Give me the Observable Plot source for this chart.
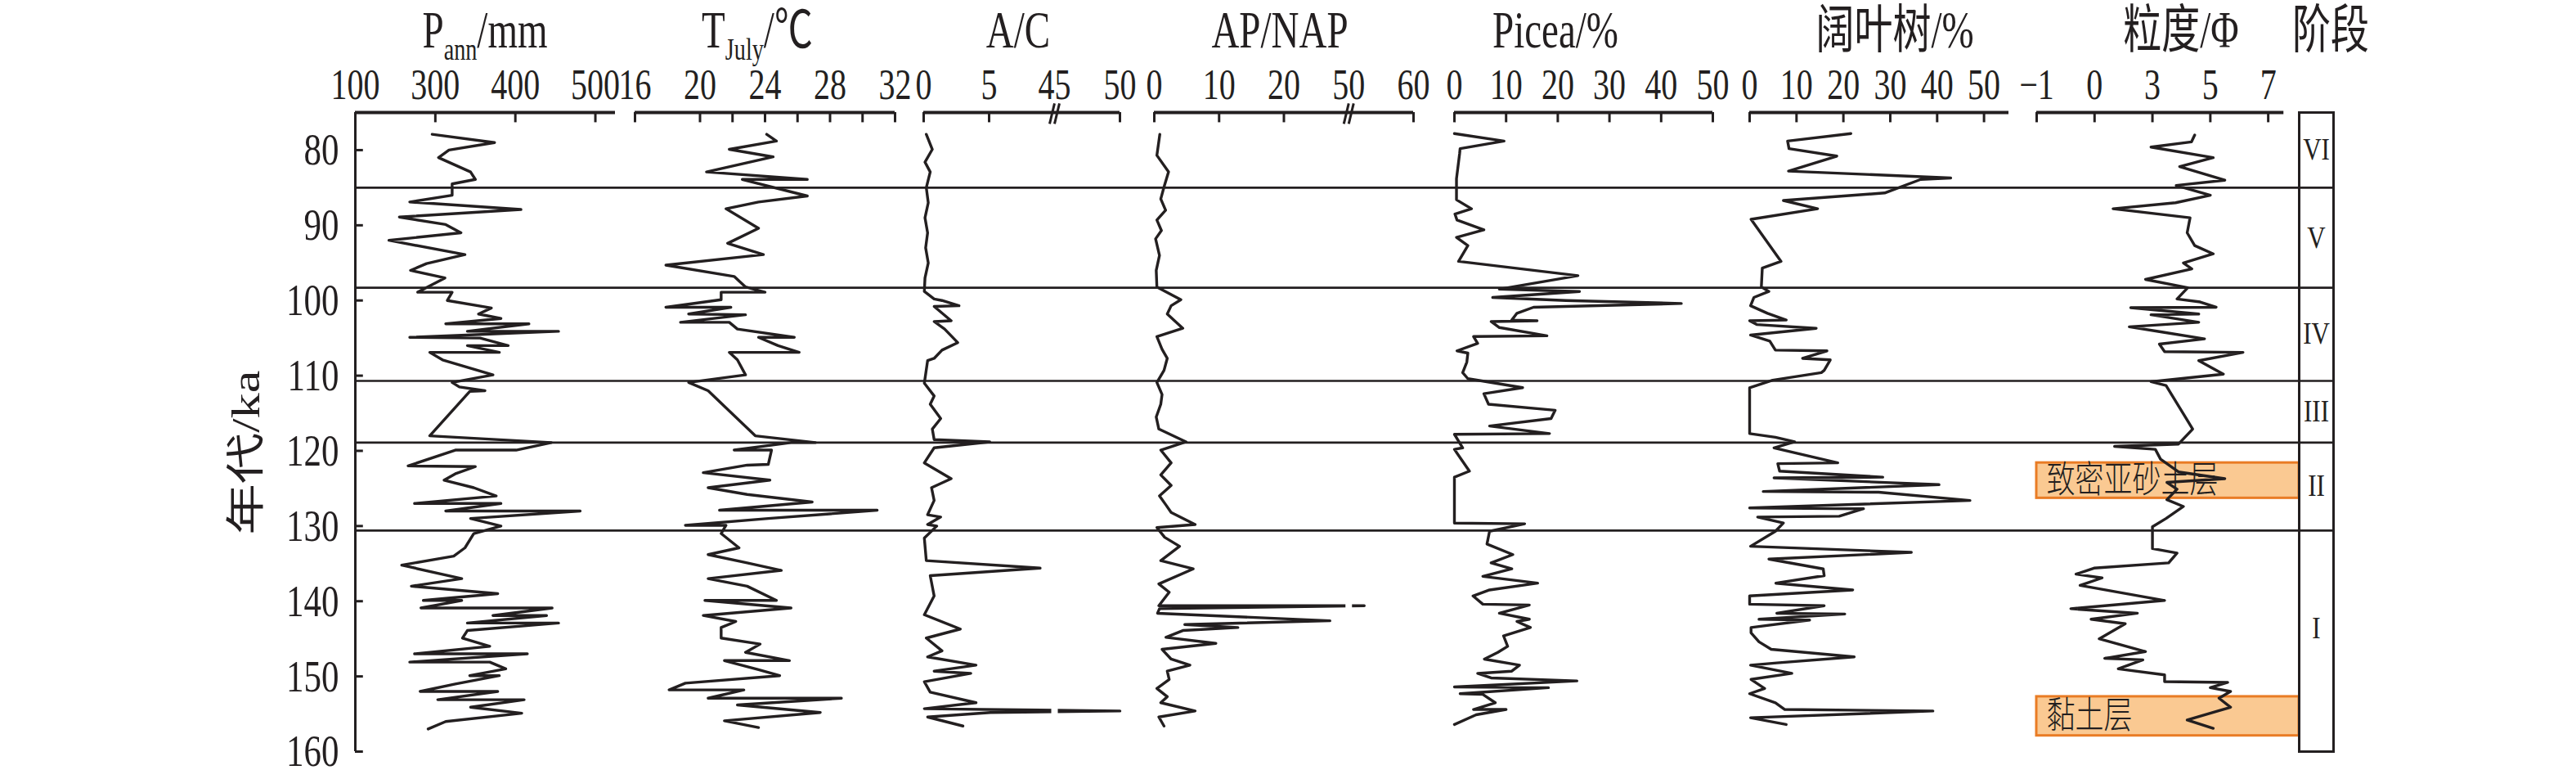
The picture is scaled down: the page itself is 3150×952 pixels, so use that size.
<!DOCTYPE html>
<html lang="zh">
<head>
<meta charset="utf-8">
<title>chart</title>
<script src="https://cdn.jsdelivr.net/npm/d3@7"></script>
<script src="https://cdn.jsdelivr.net/npm/@observablehq/plot@0.6"></script>
<style>
  html,body{margin:0;padding:0;background:#fff;}
  #chart{position:relative;width:3150px;height:952px;overflow:hidden;background:#fff;}
  #chart svg{position:absolute;left:0;top:0;}
  .t{position:absolute;white-space:nowrap;color:#231f20;font-family:"Liberation Serif","Noto Sans CJK SC",serif;line-height:1;}
  .t sub{font-size:0.6em;vertical-align:-0.4em;line-height:1;}
</style>
</head>
<body>
<div id="chart"></div>
<script>
// ---------------- data ----------------
const ageDomain = [75, 160];
const yTicks = [80, 90, 100, 110, 120, 130, 140, 150, 160];
const boundaries = [85, 98.3, 110.7, 118.9, 130.6];
const stageNames = ["VI", "V", "IV", "III", "II", "I"];
const stageLabelAges = [80, 91.7, 104.5, 114.8, 124.7, 143.6];
const layerNames = ["致密亚砂土层", "黏土层"];
const layerTop = [121.6, 152.7];
const layerBottom = [126.3, 157.9];

const titles = ["P<sub>ann</sub>/mm", "T<sub>July</sub>/℃", "A/C", "AP/NAP", "Picea/%", "阔叶树/%", "粒度/Φ", "阶段"];
const yTitle = "年代/ka";

// P_ann / mm
const pannAge = [77.9,79.0,80.0,81.0,82.9,83.9,84.5,86.0,86.9,87.9,88.9,89.9,91.0,92.0,93.9,95.1,96.0,97.0,98.9,98.9,100.0,101.0,101.8,102.4,103.1,103.1,104.1,104.1,104.9,105.0,106.0,106.0,106.9,106.9,107.9,109.9,110.9,111.5,112.0,112.1,118.0,118.9,119.9,119.9,122.0,122.1,123.0,123.9,124.9,126.0,127.0,127.0,128.0,128.0,129.0,130.0,131.0,132.9,134.0,135.2,137.0,138.0,139.0,139.9,139.9,140.9,140.9,141.9,141.9,142.9,142.9,143.9,144.9,146.0,147.0,147.0,148.1,148.1,149.0,149.9,149.9,151.0,152.0,152.0,153.1,153.1,154.1,154.9,156.0,157.0];
const pannVal = [296,374,317,304,344,350,321,321,268,407,255,313,332,242,337,289,269,312,278,321,315,370,354,382,313,417,340,454,268,356,391,340,380,293,309,372,321,330,362,343,293,445,401,325,266,350,326,311,348,376,274,382,313,481,344,382,348,337,323,258,333,270,378,285,333,282,446,372,439,340,454,340,334,368,274,415,268,368,388,343,380,325,281,378,303,411,344,408,313,291];

// T_July / ℃
const tjulyAge = [77.9,78.8,79.9,80.9,82.9,83.9,83.9,86.1,86.9,87.8,90.4,92.4,93.9,95.3,96.8,98.2,98.9,98.9,99.9,100.9,100.9,101.8,101.9,102.9,102.9,103.8,104.9,104.9,106.0,106.9,106.9,107.9,109.9,110.9,112.0,118.0,118.9,118.9,119.9,119.9,121.8,121.9,122.9,123.9,124.9,125.8,126.8,127.9,127.9,129.0,129.9,129.9,131.0,132.9,133.8,134.9,135.9,137.0,138.0,139.9,139.9,140.9,141.9,142.7,143.5,144.9,145.7,146.8,147.9,147.9,149.1,149.9,150.9,151.8,151.8,152.9,152.9,153.8,154.8,155.9,156.8];
const tjulyVal = [24.1,24.7,21.8,24.5,20.4,26.6,22.6,26.6,23.6,21.6,23.6,21.7,23.9,17.9,22.1,22.8,24.0,21.3,21.3,17.9,21.9,19.3,22.8,18.8,21.8,22.3,25.8,23.6,24.8,26.1,21.8,22.3,22.8,19.3,20.5,23.4,27.1,25.6,22.1,24.4,24.2,22.9,20.2,24.3,20.5,22.9,26.9,21.2,30.9,24.2,19.1,21.6,21.3,22.4,20.5,22.9,25.0,20.5,22.9,24.7,20.3,25.6,20.2,22.2,21.3,21.3,23.7,22.8,25.5,21.5,23.6,24.9,19.1,18.1,22.7,20.5,28.7,22.3,27.4,21.5,23.6];

// A/C
const acAge = [77.9,79.9,81.6,82.9,85,87,89,91,93,95,97,98.8,99.8,100.0,100.7,100.8,102.7,102.8,103.8,105.6,106.6,107.7,108,111.0,112.7,113.8,115.7,117.1,118.5,118.8,119.6,121.6,123.7,124.9,126.6,128.5,128.8,129.8,130.0,131.6,134.6,135.6,136.6,139.3,141.8,143.7,144.9,146.6,147.4,148.5,149.3,149.6,150.7,152.1,153.5,154.3,154.6,154.8,155.4,156.6];
const acVal = [0.2,0.66,0.1,0.5,0.2,0.35,0.1,0.3,0.15,0.35,0.1,0.05,0.8,1.4,2.7,0.8,2.1,0.8,1.6,2.6,1.4,0.8,0.3,0.05,0.8,0.5,1.3,0.66,0.8,5.05,0.8,0.05,2.1,0.6,0.8,0.3,1.3,0.3,1.0,0.05,0.2,8.9,0.5,0.8,0.05,2.8,0.2,1.4,0.3,4.0,0.8,3.6,0.05,0.5,4.0,0.05,50,5.1,0.3,3.0];

// AP/NAP
const apAge = [77.9,80.7,82.9,84.9,86.5,88.0,89.3,90.7,91.8,94,96,98.2,99.9,100.7,101.8,103.7,104.8,106.5,107.7,109.3,110.9,112.5,113.8,115.5,117.1,118.8,119.9,121.6,123.2,124.6,126.0,127.2,128.2,129.8,130.2,131.5,132.7,134.6,135.7,137.7,138.8,140.6,140.6,141.0,141.6,142.6,143.1,143.5,143.9,144.8,145.6,146.4,147.7,148.5,149.3,150.4,151.6,152.7,153.5,154.6,155.4,156.6];
const apVal = [0.85,0.4,2.2,1.5,1.0,1.75,0.4,1.1,0.2,0.8,0.3,0.4,4.1,2.6,2.0,4.4,0.4,1.2,2.0,1.5,0.4,1.2,1.0,0.3,0.7,4.9,1.0,2.6,1.0,2.6,0.8,1.8,2.6,6.3,0.4,1.6,3.9,1.0,6.0,0.7,2.3,0.7,52.4,0.8,0.5,27.1,4.7,12.9,4.4,1.8,9.5,1.2,2.6,5.5,2.0,2.3,0.4,2.0,1.0,6.3,0.7,1.5];

// Picea / %
const piceaAge = [77.8,78.8,79.8,80.5,83.8,86.6,87.8,88.5,89.3,90.6,91.6,92.7,94.8,96.7,98.5,98.8,99.6,100.0,100.4,100.9,101.7,102.6,102.7,102.8,103.6,104.7,104.8,105.7,106.7,107.0,108.2,109.6,110.4,110.7,111.6,112.4,113.8,114.6,115.7,116.7,117.7,117.8,119.6,119.8,122.7,123.5,129.6,129.7,130.7,132.4,133.8,134.9,135.7,136.7,137.6,138.5,139.3,140.4,140.5,141.6,142.4,142.7,143.5,144.6,146.0,146.8,147.7,148.5,149.3,149.6,150.2,150.6,151.4,151.5,152.3,152.4,153.5,154.4,154.4,155.1,156.4];
const piceaVal = [0,9.6,1.1,1.0,0.4,0.4,3.3,0.1,0.5,5.7,0.4,2.6,0.8,23.9,8.7,24.2,7.4,21.6,43.9,15.3,12.1,11.1,16.0,7.1,8.7,17.9,3.7,4.5,0.5,2.6,2.4,1.6,2.6,5.3,13.2,5.7,6.6,19.5,18.7,6.8,18.4,0,1.6,0,2.9,0,0,13.6,6.8,6.3,11.3,7.1,11.1,5.5,16.1,6.8,3.6,5.5,14.5,8.7,14.5,12.1,14.7,9.5,10.3,8.4,5.8,12.6,11.1,4.5,7.1,23.7,0,18.2,1.1,5.5,7.9,3.7,10.0,4.2,0];

// 阔叶树 / %
const broadAge = [77.8,78.8,79.8,80.8,82.8,83.7,83.9,85.7,86.7,87.8,89.2,94.8,95.7,98.2,98.8,99.6,100.7,101.7,102.6,102.7,103.2,103.7,104.6,105.4,106.6,106.7,107.7,107.9,109.3,109.6,110.6,111.6,117.7,118.2,118.8,119.6,121.6,121.7,122.7,123.5,123.6,124.5,125.4,125.5,126.6,127.6,127.7,128.7,128.8,129.6,130.7,132.7,133.5,134.4,135.7,136.6,137.6,138.5,139.3,140.4,140.6,141.6,141.7,142.4,142.5,143.5,144.2,145.4,146.4,147.4,148.2,148.5,149.6,150.4,151.6,152.3,153.5,154.4,154.6,155.5,156.4];
const broadVal = [21.6,8.1,8.4,18.6,8.3,42.9,36.5,28.8,7.2,14.5,0.3,6.7,2.7,2.5,4.1,0.9,0.2,3.8,7.8,0,1.5,14.2,0.2,4.3,5.5,16.5,11.3,17.2,15.9,15.3,4.9,0,0,5.5,9.6,5.2,18.8,6.0,6.4,28.4,5.2,40.4,2.9,27.5,47,0,24.3,19.1,1.7,7.2,5.5,0.2,34.5,4.1,15.7,15.9,5.6,22.0,0,0,15.9,5.8,20.3,2.0,12.8,0.3,0.3,2.0,4.6,22.3,5.8,0.2,9.0,0.3,3.2,0,5.5,7.5,39.1,0.2,7.8];

// 粒度 / Φ
const grainAge = [78.0,78.9,79.6,81.0,82.2,84.0,84.7,86.0,87.0,87.8,89.0,91.0,92.7,93.8,95.0,95.8,97.2,98.3,99.8,100.2,100.9,100.95,101.8,101.9,102.9,103.5,104.2,105.1,105.8,106.8,106.9,108.0,109.8,110.8,111.3,117.1,119.1,119.4,119.8,121.1,122.8,123.7,124.2,125.1,126.5,127.4,129.0,130.1,133.0,133.6,134.9,135.6,136.4,136.9,137.9,139.9,141.0,141.6,142.4,143.0,145.0,146.7,147.6,147.8,149.0,149.8,150.7,150.8,151.5,152.0,152.9,154.1,154.6,155.8,156.9];
const grainVal = [4.46,4.35,2.95,5.1,3.94,5.5,3.82,5.0,3.8,1.64,4.3,4.2,4.46,5.1,4.07,4.36,2.76,4.22,3.85,4.65,5.2,2.25,4.6,2.95,4.6,2.2,3.33,4.8,3.24,3.42,6.13,4.6,5.45,2.95,3.47,4.39,3.9,1.69,3.1,3.28,3.9,5.5,3.5,3.85,3.5,4.07,3.47,3.0,3.0,3.85,3.56,0.98,0.36,1.26,0.5,3.42,0.18,2.48,0.88,2.06,1.16,2.76,1.35,2.67,1.82,3.42,3.42,5.6,5.0,5.7,5.3,5.7,5.26,4.2,5.1];

// axis ticks (mark positions, label positions, label texts)
const pannTicks = [300, 400, 500], pannLabelAt = [200, 300, 400, 500], pannLabels = ["100", "300", "400", "500"];
const tjulyTicks = [16, 20, 22, 24, 26, 28, 30, 32], tjulyLabelAt = [16, 20, 24, 28, 32], tjulyLabels = ["16", "20", "24", "28", "32"];
const acTicks = [0, 5, 15], acLabelAt = [0, 5, 10, 15], acLabels = ["0", "5", "45", "50"];
const apTicks = [0, 10, 20, 40], apLabelAt = [0, 10, 20, 30, 40], apLabels = ["0", "10", "20", "50", "60"];
const piceaTicks = [0, 10, 20, 30, 40, 50], piceaLabels = ["0", "10", "20", "30", "40", "50"];
const broadTicks = [0, 10, 20, 30, 40, 50], broadLabels = ["0", "10", "20", "30", "40", "50"];
const grainTicks = [-1, 1, 3, 5, 7], grainLabels = ["\u22121", "0", "3", "5", "7"];

// ---------------- drawing ----------------
const INK = "#231f20";
const W = 3150, H = 952, MT = 137, MB = 34;
const SERIF = "'Liberation Serif', 'Times New Roman', serif";
const chart = document.getElementById("chart");

function stretch(svg, s) {
  svg.querySelectorAll("text").forEach(t => {
    const tr = t.getAttribute("transform");
    if (tr && tr.startsWith("translate")) t.setAttribute("transform", tr + ` scale(1,${s})`);
  });
}

const panels = [
  {left: 434, right: 752, domain: [200, 525], bar: [200, 525], age: pannAge, val: pannVal, ticks: pannTicks, labelAt: pannLabelAt, labels: pannLabels, yAxis: true},
  {left: 776, right: 1094, domain: [16, 32], bar: [16, 32], age: tjulyAge, val: tjulyVal, ticks: tjulyTicks, labelAt: tjulyLabelAt, labels: tjulyLabels},
  {left: 1129, right: 1369, domain: [0, 15], bar: [0, 15], age: acAge, val: acVal, ticks: acTicks, labelAt: acLabelAt, labels: acLabels, pos: v => v > 10 ? v - 35 : v, breakAt: 10},
  {left: 1411, right: 1728, domain: [0, 40], bar: [0, 40], age: apAge, val: apVal, ticks: apTicks, labelAt: apLabelAt, labels: apLabels, pos: v => v > 30 ? v - 20 : v, breakAt: 30},
  {left: 1778, right: 2094, domain: [0, 50], bar: [0, 50], age: piceaAge, val: piceaVal, ticks: piceaTicks, labelAt: piceaTicks, labels: piceaLabels},
  {left: 2139, right: 2456, domain: [0, 55.3], bar: [0, 55.3], age: broadAge, val: broadVal, ticks: broadTicks, labelAt: broadTicks, labels: broadLabels},
  {left: 2490, right: 2811, domain: [-1, 8.07], bar: [-1, 7.54], age: grainAge, val: grainVal, ticks: grainTicks, labelAt: grainTicks, labels: grainLabels, layers: true}
];

const layers = layerNames.map((n, i) => ({name: n, top: layerTop[i], bottom: layerBottom[i]}));

for (const p of panels) {
  const pos = p.pos || (v => v);
  const data = p.age.map((a, i) => ({age: a, value: p.val[i]}));
  const labelMap = new Map(p.labelAt.map((v, i) => [v, p.labels[i]]));
  const unit = (p.domain[1] - p.domain[0]) / (p.right - p.left); // data units per pixel
  const marks = [];
  if (p.layers) {
    marks.push(Plot.rect(layers, {y1: "top", y2: "bottom", fill: "#fac992", stroke: "#e97c25", strokeWidth: 3}));
    marks.push(Plot.text(layers, {y: d => (d.top + d.bottom) / 2, text: "name", frameAnchor: "left", textAnchor: "start", dx: 12, fontSize: 35, fontFamily: "'Noto Sans CJK SC', sans-serif", fontWeight: 300, fill: INK}));
  }
  marks.push(Plot.ruleY([ageDomain[0]], {x1: () => p.bar[0], x2: () => p.bar[1], stroke: INK, strokeWidth: 4}));
  marks.push(Plot.ruleX(p.ticks, {x: d => d, y1: () => ageDomain[0], y2: () => ageDomain[0] + 1.35, stroke: INK, strokeWidth: 3}));
  marks.push(Plot.axisX({anchor: "top", ticks: p.labelAt, tickFormat: d => labelMap.get(d), tickSize: 0, tickPadding: 17, fontSize: 40, fontFamily: SERIF, fill: INK, label: null}));
  if (p.yAxis) {
    marks.push(Plot.ruleX([p.domain[0]], {x: d => d, y1: () => ageDomain[0], y2: () => ageDomain[1], stroke: INK, strokeWidth: 3}));
    marks.push(Plot.ruleY(yTicks, {y: d => d, x1: () => p.domain[0], x2: () => p.domain[0] + 10, stroke: INK, strokeWidth: 3}));
    marks.push(Plot.axisY({anchor: "left", ticks: yTicks, tickSize: 0, tickPadding: 20, fontSize: 43, fontFamily: SERIF, fill: INK, label: null}));
  }
  marks.push(Plot.line(data, {x: d => pos(d.value), y: "age", stroke: INK, strokeWidth: 3.4}));
  if (p.breakAt != null) {
    marks.push(Plot.ruleX(data.filter(d => pos(d.value) > p.breakAt), {x: () => p.breakAt, y1: d => d.age - 0.45, y2: d => d.age + 0.45, stroke: "white", strokeWidth: 8}));
    for (const dx of [-3, 3]) {
      marks.push(Plot.link([p.breakAt], {x1: d => d - 3 * unit, x2: d => d + 3 * unit, y1: () => ageDomain[0] + 1.5, y2: () => ageDomain[0] - 1.2, dx, stroke: INK, strokeWidth: 3}));
    }
  }
  const svg = Plot.plot({
    width: W, height: H,
    marginLeft: p.left, marginRight: W - p.right, marginTop: MT, marginBottom: MB,
    style: {background: "transparent", color: INK, fontFamily: SERIF, overflow: "visible"},
    x: {domain: p.domain, label: null},
    y: {domain: ageDomain, reverse: true, axis: p.yAxis ? undefined : null, label: null},
    marks
  });
  stretch(svg, 1.3);
  chart.appendChild(svg);
}

// stage boundaries across all panels
chart.appendChild(Plot.plot({
  width: W, height: H, marginLeft: 434, marginRight: W - 2853, marginTop: MT, marginBottom: MB,
  style: {background: "transparent"},
  y: {domain: ageDomain, reverse: true, axis: null},
  marks: [Plot.ruleY(boundaries, {stroke: INK, strokeWidth: 2.6})]
}));

// stage column
const stages = stageNames.map((n, i) => ({name: n, mid: stageLabelAges[i]}));
const stageSvg = Plot.plot({
  width: W, height: H, marginLeft: 2811, marginRight: W - 2853, marginTop: MT, marginBottom: MB,
  style: {background: "transparent"},
  y: {domain: ageDomain, reverse: true, axis: null},
  marks: [
    Plot.frame({stroke: INK, strokeWidth: 3}),
    Plot.text(stages, {y: "mid", text: "name", frameAnchor: "middle", fontSize: 31, fontFamily: SERIF, fill: INK})
  ]
});
stretch(stageSvg, 1.2);
chart.appendChild(stageSvg);

// titles
const titleCenters = [593, 926, 1245, 1565, 1902, 2317, 2667, 2850];
titles.forEach((t, i) => {
  const d = document.createElement("div");
  d.className = "t";
  d.innerHTML = t;
  d.style.left = titleCenters[i] + "px";
  d.style.top = "5px";
  d.style.fontSize = "47px";
  d.style.transformOrigin = "50% 0";
  d.style.transform = "translateX(-50%) scaleY(1.35)";
  chart.appendChild(d);
});
const yt = document.createElement("div");
yt.className = "t";
yt.textContent = yTitle;
yt.style.left = "301px";
yt.style.top = "553px";
yt.style.fontSize = "48px";
yt.style.transform = "translate(-50%,-50%) rotate(-90deg) scale(1.3,1)";
chart.appendChild(yt);
</script>
</body>
</html>
